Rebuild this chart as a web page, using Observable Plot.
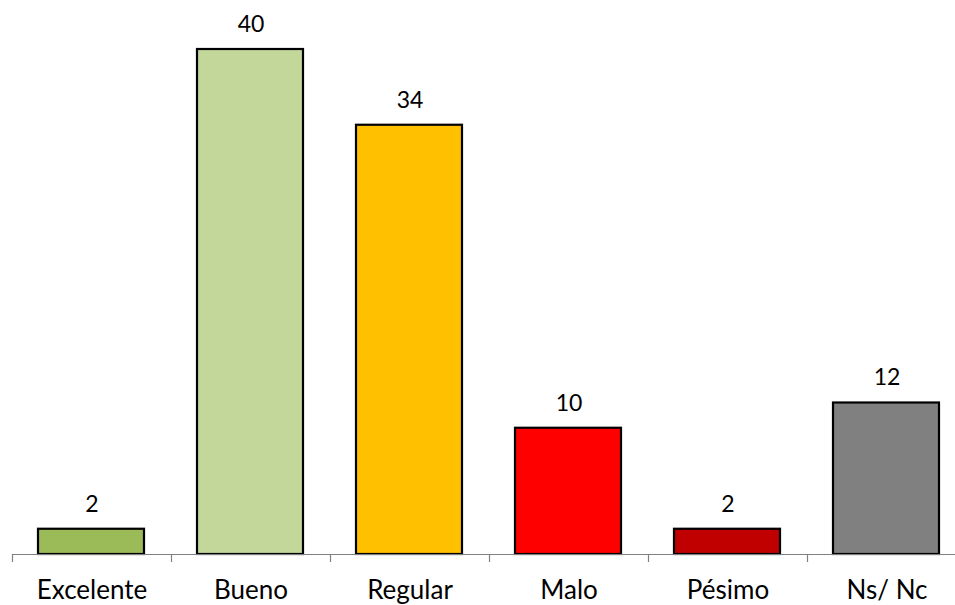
<!DOCTYPE html>
<html>
<head>
<meta charset="utf-8">
<script src="https://cdn.jsdelivr.net/npm/d3@7"></script>
<script src="https://cdn.jsdelivr.net/npm/@observablehq/plot@0.6"></script>
<style>
  html, body { margin: 0; padding: 0; background: #fff; }
  #chart svg { display: block; }
</style>
</head>
<body>
<div id="chart"></div>
<script>
const categories = ["Excelente", "Bueno", "Regular", "Malo", "Pésimo", "Ns/ Nc"];
const values = [2, 40, 34, 10, 2, 12];
const barColors = ["#9BBB59", "#C4D79B", "#FFC000", "#FF0000", "#C00000", "#808080"];

const data = categories.map((c, i) => ({ category: c, value: values[i], i }));
const boundaries = d3.range(categories.length + 1);

const chart = Plot.plot({
  width: 955,
  height: 605,
  marginTop: 49,
  marginLeft: 12,
  marginRight: 0,
  marginBottom: 51,
  style: { fontFamily: "Lato, 'Open Sans', sans-serif", background: "#fff", overflow: "visible" },
  x: { domain: [0, categories.length], range: [12, 966] },
  y: { domain: [0, 40], axis: null },
  color: { domain: categories, range: barColors },
  marks: [
    Plot.axisX({ ticks: boundaries, tickSize: 8, tickFormat: () => "", stroke: "#808080", strokeWidth: 1.2 }),
    Plot.rectY(data, {
      x1: d => d.i, x2: d => d.i + 1, y1: 0, y2: "value",
      fill: "category", stroke: "#000", strokeWidth: 2.2,
      insetLeft: 26, insetRight: 27
    }),
    Plot.ruleY([0], { stroke: "#808080", strokeWidth: 1 }),
    Plot.text(data, {
      x: d => d.i + 0.5, y: "value", text: d => String(d.value),
      dy: -25, fontSize: 23, fill: "#000"
    }),
    Plot.text(data, {
      x: d => d.i + 0.5, y: 0, text: "category",
      dy: 36, fontSize: 26, fill: "#000"
    })
  ]
});

document.getElementById("chart").appendChild(chart);
</script>
</body>
</html>
